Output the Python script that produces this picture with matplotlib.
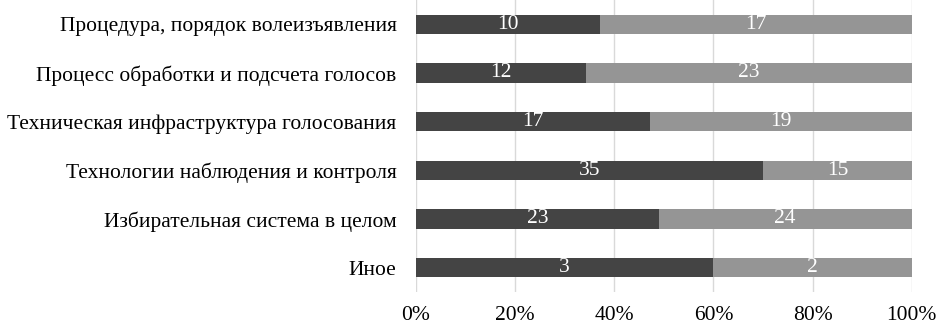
import numpy as np
import matplotlib.pyplot as plt

categories = [
    "Процедура, порядок волеизъявления",
    "Процесс обработки и подсчета голосов",
    "Техническая инфраструктура голосования",
    "Технологии наблюдения и контроля",
    "Избирательная система в целом",
    "Иное",
]
series_a = [10, 12, 17, 35, 23, 3]
series_b = [17, 23, 19, 15, 24, 2]
xticks = [0, 20, 40, 60, 80, 100]

plt.rcParams['font.family'] = ['Liberation Serif', 'DejaVu Serif']

a = np.array(series_a, dtype=float)
b = np.array(series_b, dtype=float)
tot = a + b
pa = a / tot * 100
pb = b / tot * 100

fig = plt.figure(figsize=(9.39, 3.25), dpi=100)
ax = fig.add_axes([0.443, 0.102, 0.528, 0.898])

y = np.arange(len(categories))
h = 0.4
ax.barh(y, pa, height=h, color='#444444', zorder=3)
ax.barh(y, pb, left=pa, height=h, color='#959595', zorder=3)

fs = 15.5
for i in range(len(categories)):
    ax.text(pa[i] / 2, y[i], str(series_a[i]), color='white', ha='center', va='center', fontsize=fs, zorder=4)
    ax.text(pa[i] + pb[i] / 2, y[i], str(series_b[i]), color='white', ha='center', va='center', fontsize=fs, zorder=4)

ax.set_xlim(0, 100)
ax.set_ylim(len(categories) - 0.5, -0.5)
ax.set_yticks(y)
ax.set_yticklabels(categories, fontsize=fs)
ax.set_xticks(xticks)
ax.set_xticklabels([f"{t}%" for t in xticks], fontsize=fs)
ax.tick_params(length=0, pad=10)
ax.tick_params(axis='y', pad=14)
ax.grid(axis='x', color='#d9d9d9', linewidth=1, zorder=0)
for s in ax.spines.values():
    s.set_visible(False)

fig.savefig('out.png', dpi=100)
